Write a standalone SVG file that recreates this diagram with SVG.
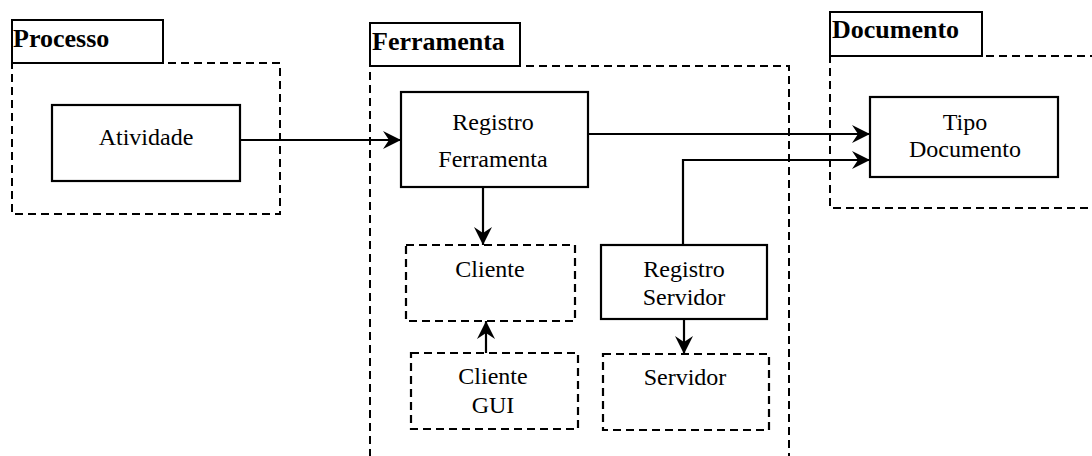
<svg xmlns="http://www.w3.org/2000/svg" width="1092" height="456" viewBox="0 0 1092 456">
  <style>
    .tab { fill: #fff; stroke: #000; stroke-width: 2; }
    .pkg { fill: none; stroke: #000; stroke-width: 2; stroke-dasharray: 8 5; }
    .box { fill: #fff; stroke: #000; stroke-width: 2.2; }
    .dbox { fill: #fff; stroke: #000; stroke-width: 2.2; stroke-dasharray: 8 5; }
    .title { font-family: "Liberation Serif", "Times New Roman", serif; font-size: 26px; font-weight: bold; fill: #000; }
    .label { font-family: "Liberation Serif", "Times New Roman", serif; font-size: 24px; fill: #000; text-anchor: middle; }
    .conn { fill: none; stroke: #000; stroke-width: 2.2; }
  </style>
  <defs>
    <marker id="arrow" markerUnits="userSpaceOnUse" markerWidth="20" markerHeight="20" refX="18" refY="9" orient="auto">
      <path d="M0,0 L18,9 L0,18 L6,9 z" fill="#000"/>
    </marker>
  </defs>
  <rect width="1092" height="456" fill="#fff"/>

  <!-- Processo package -->
  <g id="processo">
    <rect class="pkg" x="12" y="63" width="268" height="151"/>
    <rect class="tab" x="12" y="20" width="151" height="43"/>
    <text class="title" x="13" y="47">Processo</text>
  </g>

  <!-- Ferramenta package -->
  <g id="ferramenta">
    <rect class="pkg" x="370" y="66" width="419" height="420"/>
    <rect class="tab" x="370" y="23" width="150" height="43"/>
    <text class="title" x="372" y="50">Ferramenta</text>
  </g>

  <!-- Documento package -->
  <g id="documento">
    <rect class="pkg" x="830" y="56" width="300" height="152"/>
    <rect class="tab" x="830" y="12" width="152" height="44"/>
    <text class="title" x="832" y="38">Documento</text>
  </g>

  <g id="atividade">
    <rect class="box" x="52" y="105" width="188" height="76"/>
    <text class="label" x="146" y="145">Atividade</text>
  </g>

  <g id="registro-ferramenta">
    <rect class="box" x="401" y="92" width="187" height="95"/>
    <text class="label" x="493" y="130">Registro</text>
    <text class="label" x="493" y="167">Ferramenta</text>
  </g>

  <g id="tipo-documento">
    <rect class="box" x="870" y="97" width="188" height="80"/>
    <text class="label" x="965" y="130">Tipo</text>
    <text class="label" x="965" y="157">Documento</text>
  </g>

  <g id="cliente">
    <rect class="dbox" x="406" y="245" width="169" height="76"/>
    <text class="label" x="490" y="277">Cliente</text>
  </g>

  <g id="cliente-gui">
    <rect class="dbox" x="411" y="353" width="167" height="76"/>
    <text class="label" x="493" y="384">Cliente</text>
    <text class="label" x="493" y="413">GUI</text>
  </g>

  <g id="registro-servidor">
    <rect class="box" x="601" y="245" width="166" height="74"/>
    <text class="label" x="684" y="277">Registro</text>
    <text class="label" x="684" y="305">Servidor</text>
  </g>

  <g id="servidor">
    <rect class="dbox" x="603" y="354" width="166" height="76"/>
    <text class="label" x="685" y="385">Servidor</text>
  </g>

  <g id="connectors">
    <line class="conn" x1="240" y1="140" x2="401" y2="140" marker-end="url(#arrow)"/>
    <line class="conn" x1="588" y1="134" x2="870" y2="134" marker-end="url(#arrow)"/>
    <polyline class="conn" points="683,245 683,160 870,160" marker-end="url(#arrow)"/>
    <line class="conn" x1="483" y1="187" x2="483" y2="245" marker-end="url(#arrow)"/>
    <line class="conn" x1="486" y1="353" x2="486" y2="321" marker-end="url(#arrow)"/>
    <line class="conn" x1="684" y1="319" x2="684" y2="354" marker-end="url(#arrow)"/>
  </g>
</svg>
